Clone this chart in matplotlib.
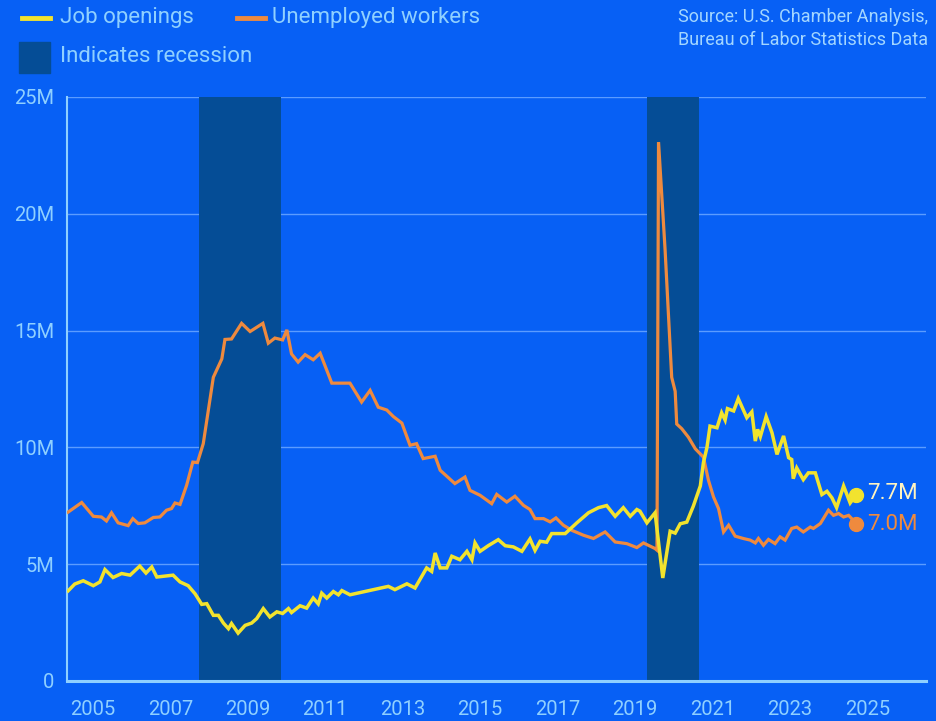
import matplotlib
matplotlib.use("Agg")
import matplotlib.pyplot as plt
import matplotlib.patches as mpatches
from matplotlib.lines import Line2D

plt.rcParams['font.family'] = ['Roboto', 'DejaVu Sans']

# unemployed workers (millions), x in years as placed on the chart
unemp_x = [2004.36, 2004.71, 2005.01, 2005.22, 2005.35, 2005.48, 2005.65, 2005.91, 2006.03, 2006.17,
           2006.34, 2006.56, 2006.73, 2006.90, 2007.03, 2007.12, 2007.25, 2007.42, 2007.58, 2007.70,
           2007.85, 2007.98, 2008.11, 2008.33, 2008.41, 2008.58, 2008.84, 2009.06, 2009.39, 2009.53,
           2009.70, 2009.90, 2010.01, 2010.13, 2010.30, 2010.48, 2010.69, 2010.87, 2011.17, 2011.64,
           2011.94, 2012.16, 2012.37, 2012.59, 2012.76, 2012.98, 2013.19, 2013.36, 2013.53, 2013.84,
           2013.97, 2014.35, 2014.61, 2014.74, 2015.00, 2015.30, 2015.43, 2015.69, 2015.90, 2016.12,
           2016.29, 2016.42, 2016.64, 2016.81, 2016.96, 2017.15, 2017.37, 2017.67, 2017.93, 2018.23,
           2018.49, 2018.79, 2019.05, 2019.22, 2019.52, 2019.57, 2019.61, 2019.78, 2019.95, 2020.04,
           2020.08, 2020.21, 2020.38, 2020.56, 2020.77, 2020.90, 2021.03, 2021.16, 2021.29, 2021.42,
           2021.59, 2021.80, 2021.98, 2022.11, 2022.19, 2022.32, 2022.45, 2022.62, 2022.75, 2022.88,
           2023.05, 2023.18, 2023.35, 2023.53, 2023.61, 2023.79, 2024.00, 2024.13, 2024.26, 2024.39,
           2024.52, 2024.72]
unemp = [7.23, 7.64, 7.05, 7.02, 6.85, 7.2, 6.77, 6.65, 6.95, 6.74,
         6.77, 7.0, 7.02, 7.31, 7.38, 7.62, 7.56, 8.38, 9.37, 9.35,
         10.16, 11.58, 13.0, 13.79, 14.62, 14.64, 15.31, 14.96, 15.31, 14.46,
         14.68, 14.6, 15.03, 14.0, 13.65, 13.97, 13.75, 14.03, 12.75, 12.75,
         11.94, 12.44, 11.72, 11.6, 11.32, 11.04, 10.09, 10.16, 9.52, 9.62,
         9.02, 8.45, 8.73, 8.16, 7.95, 7.59, 7.99, 7.66, 7.91, 7.52,
         7.34, 6.95, 6.95, 6.81, 6.98, 6.67, 6.45, 6.24, 6.1, 6.38,
         5.95, 5.88, 5.71, 5.91, 5.67, 5.6, 23.07, 18.44, 13.0, 12.4,
         11.0, 10.8, 10.44, 9.94, 9.58, 8.59, 7.88, 7.38, 6.38, 6.67,
         6.2, 6.1, 6.03, 5.91, 6.1, 5.81, 6.06, 5.88, 6.17, 6.03,
         6.53, 6.59, 6.38, 6.59, 6.53, 6.74, 7.31, 7.09, 7.17, 7.02,
         7.09, 6.74]

# job openings (millions)
jobs_x = [2004.36, 2004.53, 2004.75, 2005.01, 2005.18, 2005.31, 2005.52, 2005.74, 2005.96, 2006.21,
          2006.37, 2006.52, 2006.65, 2007.07, 2007.25, 2007.46, 2007.64, 2007.81, 2007.94, 2008.11,
          2008.24, 2008.37, 2008.50, 2008.58, 2008.75, 2008.93, 2009.10, 2009.23, 2009.40, 2009.57,
          2009.75, 2009.90, 2010.05, 2010.13, 2010.35, 2010.52, 2010.69, 2010.82, 2010.91, 2011.04,
          2011.21, 2011.34, 2011.43, 2011.64, 2012.63, 2012.80, 2013.11, 2013.32, 2013.62, 2013.75,
          2013.84, 2013.97, 2014.14, 2014.27, 2014.48, 2014.66, 2014.79, 2014.87, 2015.00, 2015.21,
          2015.47, 2015.65, 2015.86, 2016.08, 2016.29, 2016.42, 2016.55, 2016.72, 2016.85, 2017.20,
          2017.50, 2017.80, 2018.06, 2018.27, 2018.49, 2018.70, 2018.88, 2019.05, 2019.13, 2019.31,
          2019.52, 2019.72, 2019.91, 2020.04, 2020.17, 2020.34, 2020.51, 2020.69, 2020.77, 2020.86,
          2020.94, 2021.12, 2021.24, 2021.33, 2021.39, 2021.55, 2021.67, 2021.89, 2022.02, 2022.11,
          2022.17, 2022.24, 2022.39, 2022.54, 2022.67, 2022.84, 2022.97, 2023.05, 2023.09, 2023.18,
          2023.35, 2023.48, 2023.66, 2023.83, 2023.96, 2024.09, 2024.21, 2024.39, 2024.56, 2024.72]
jobs = [3.86, 4.15, 4.29, 4.08, 4.24, 4.77, 4.43, 4.6, 4.53, 4.92,
        4.62, 4.88, 4.45, 4.53, 4.24, 4.08, 3.73, 3.28, 3.31, 2.81,
        2.81, 2.48, 2.24, 2.46, 2.05, 2.38, 2.48, 2.67, 3.1, 2.74,
        2.96, 2.89, 3.1, 2.93, 3.22, 3.12, 3.55, 3.3, 3.76, 3.55,
        3.83, 3.69, 3.87, 3.69, 4.05, 3.91, 4.16, 3.98, 4.84, 4.69,
        5.48, 4.84, 4.84, 5.34, 5.19, 5.55, 5.19, 5.91, 5.55, 5.79,
        6.05, 5.79, 5.74, 5.55, 6.08, 5.59, 5.98, 5.94, 6.31, 6.31,
        6.77, 7.2, 7.42, 7.51, 7.05, 7.42, 7.05, 7.34, 7.27, 6.77,
        7.2, 4.41, 6.41, 6.33, 6.73, 6.8, 7.49, 8.35, 9.35, 9.99,
        10.91, 10.84, 11.48, 11.17, 11.66, 11.56, 12.09, 11.27, 11.52, 10.27,
        10.77, 10.46, 11.32, 10.63, 9.7, 10.49, 9.56, 9.48, 8.66, 9.12,
        8.62, 8.91, 8.91, 7.98, 8.12, 7.84, 7.42, 8.35, 7.62, 7.98]

recessions = [(2007.74, 2009.86), (2019.32, 2020.65)]
year_ticks = [2005, 2007, 2009, 2011, 2013, 2015, 2017, 2019, 2021, 2023, 2025]
value_ticks = [0, 5, 10, 15, 20, 25]
value_labels = ["0", "5M", "10M", "15M", "20M", "25M"]
jobs_label = "7.7M"
unemp_label = "7.0M"

BG = "#0760f5"
SHADE = "#054d96"
GRID = "#5b9cff"
AXIS = "#8fd0ff"
TICK = "#8fd0ff"
YELLOW = "#f2e32e"
ORANGE = "#ef8a3e"

fig = plt.figure(figsize=(9.37, 7.21), dpi=100, facecolor=BG)
ax = fig.add_axes([0.0715, 0.0555, 0.9168, 0.81], facecolor=BG)

for a, b in recessions:
    ax.axvspan(a, b, color=SHADE, lw=0, zorder=1)

for v in value_ticks[1:]:
    ax.axhline(v, color=GRID, lw=1.0, zorder=0.5)

ax.plot(unemp_x, unemp, color=ORANGE, lw=2.3, zorder=3, solid_joinstyle="miter")
ax.plot(jobs_x, jobs, color=YELLOW, lw=2.5, zorder=4, solid_joinstyle="miter")

ax.plot(jobs_x[-1], jobs[-1], "o", color=YELLOW, ms=10, zorder=5)
ax.plot(unemp_x[-1], unemp[-1], "o", color=ORANGE, ms=10, zorder=5)
ax.text(jobs_x[-1] + 0.27, jobs[-1] + 0.05, jobs_label, color="#fff4c0", fontsize=16,
        va="center", ha="left")
ax.text(unemp_x[-1] + 0.27, unemp[-1] - 0.05, unemp_label, color=ORANGE, fontsize=16,
        va="center", ha="left")

ax.set_xlim(2004.33, 2026.52)
ax.set_ylim(0, 25)
ax.set_xticks(year_ticks)
ax.set_xticklabels([str(y) for y in year_ticks])
ax.set_yticks(value_ticks)
ax.set_yticklabels(value_labels)
ax.tick_params(length=0, colors=TICK, labelsize=14.5)
ax.tick_params(axis="x", pad=14)
ax.tick_params(axis="y", pad=9)

for s in ["top", "right"]:
    ax.spines[s].set_visible(False)
ax.spines["left"].set_color(AXIS)
ax.spines["left"].set_linewidth(1.5)
ax.spines["bottom"].set_color(AXIS)
ax.spines["bottom"].set_linewidth(2.2)

# legend at the top
fig.add_artist(Line2D([22 / 937, 50 / 937], [1 - 18 / 721, 1 - 18 / 721], color=YELLOW, lw=3.5))
fig.text(60 / 937, 1 - 18 / 721, "Job openings", color=AXIS, fontsize=16, va="center")
fig.add_artist(Line2D([237 / 937, 265 / 937], [1 - 18 / 721, 1 - 18 / 721], color=ORANGE, lw=3.5))
fig.text(272 / 937, 1 - 18 / 721, "Unemployed workers", color=AXIS, fontsize=16, va="center")
fig.add_artist(mpatches.Rectangle((19 / 937, 1 - 73 / 721), 31 / 937, 31 / 721,
                                  color=SHADE, transform=fig.transFigure))
fig.text(60 / 937, 1 - 57 / 721, "Indicates recession", color=AXIS, fontsize=16, va="center")

fig.text(928 / 937, 1 - 17 / 721, "Source: U.S. Chamber Analysis,", color="#a3d6ff",
         fontsize=13, ha="right", va="center")
fig.text(928 / 937, 1 - 40 / 721, "Bureau of Labor Statistics Data", color="#a3d6ff",
         fontsize=13, ha="right", va="center")

fig.savefig("out.png", dpi=100, facecolor=BG)
